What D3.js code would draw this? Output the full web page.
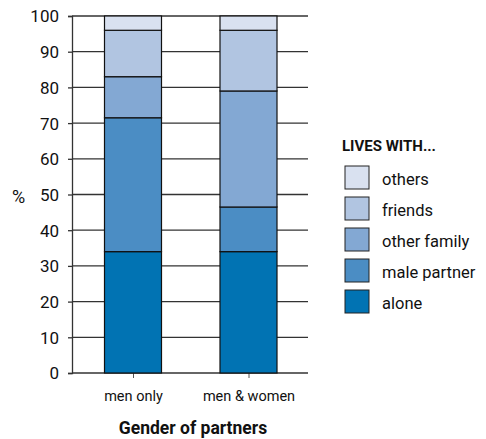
<!DOCTYPE html>
<html><head><meta charset="utf-8">
<script src="https://cdn.jsdelivr.net/npm/d3@7"></script>
<style>
body{margin:0;background:#fff;}
text{font-family:Roboto,"Open Sans",sans-serif;fill:#111;}
</style></head>
<body><svg id="c" width="486" height="439"></svg>
<script>
const categories = ["men only", "men & women"];
const seriesNames = ["alone", "male partner", "other family", "friends", "others"];
const alone = [34, 34];
const malePartner = [37.5, 12.5];
const otherFamily = [11.5, 32.5];
const friends = [13, 17];
const others = [4, 4];
const colors = ["#0173b3", "#4b8dc4", "#83a8d3", "#b1c5e1", "#d9e1f0"];
const yTicks = [0,10,20,30,40,50,60,70,80,90,100];

const svg = d3.select("#c");
const m = {l:72, r:308, t:16, b:373};
const y = d3.scaleLinear().domain([0,100]).range([m.b, m.t]);

const rows = categories.map((c,i)=>({cat:c, "alone":alone[i], "male partner":malePartner[i], "other family":otherFamily[i], "friends":friends[i], "others":others[i]}));
const stack = d3.stack().keys(seriesNames)(rows);

// gridlines
svg.append("g").selectAll("line").data(yTicks.filter(d=>d>0)).join("line")
  .attr("x1", m.l).attr("x2", m.r).attr("y1", d=>y(d)).attr("y2", d=>y(d))
  .attr("stroke","#333").attr("stroke-width",1.3);

// y axis
const yAxis = d3.axisLeft(y).tickValues(yTicks).tickSize(4).tickPadding(9);
const gy = svg.append("g").attr("transform",`translate(${m.l},0)`).call(yAxis);
gy.select(".domain").attr("stroke","#333").attr("stroke-width",1.3);
gy.selectAll(".tick line").attr("stroke","#333").attr("stroke-width",1.3);
gy.selectAll("text").style("font-size","17px").attr("fill","#111").attr("dy","0.35em");

// x axis
const bw = 57;
const xs = d3.scalePoint().domain(categories).range([133, 248.5]);
const xAxis = d3.axisBottom(xs).tickSize(5).tickPadding(13);
const gx = svg.append("g").attr("transform",`translate(0,${m.b})`).call(xAxis);
gx.select(".domain").remove();
svg.append("line").attr("x1",m.l).attr("x2",m.r).attr("y1",m.b).attr("y2",m.b).attr("stroke","#333").attr("stroke-width",1.3);
gx.selectAll(".tick line").attr("stroke","#555");
gx.selectAll("text").style("font-size","14.5px").attr("fill","#111");

// bars
svg.append("g").selectAll("g").data(stack).join("g")
  .attr("fill",(d,i)=>colors[i])
  .selectAll("rect").data(d=>d).join("rect")
  .attr("x", d=>xs(d.data.cat)-bw/2).attr("width", bw)
  .attr("y", d=>y(d[1])).attr("height", d=>y(d[0])-y(d[1]))
  .attr("stroke","#111").attr("stroke-width",1.2);

// labels
svg.append("text").attr("x",12).attr("y",203).text("%").style("font-size","18px");
svg.append("text").attr("x",193).attr("y",434).attr("text-anchor","middle")
  .style("font-size","17.5px").style("font-weight","bold").text("Gender of partners");

// legend
const lg = svg.append("g");
lg.append("text").attr("x",342).attr("y",151).style("font-size","15px").style("font-weight","bold").text("LIVES WITH...");
const legItems = seriesNames.map((n,i)=>({n, c:colors[i]})).reverse();
const li = lg.selectAll("g.li").data(legItems).join("g").attr("class","li")
  .attr("transform",(d,i)=>`translate(345,${166+i*31})`);
li.append("rect").attr("width",24).attr("height",23).attr("fill",d=>d.c).attr("stroke","#222").attr("stroke-width",1);
li.append("text").attr("x",37).attr("y",13).attr("dy","0.35em").style("font-size","16.5px").text(d=>d.n);
</script></body></html>
